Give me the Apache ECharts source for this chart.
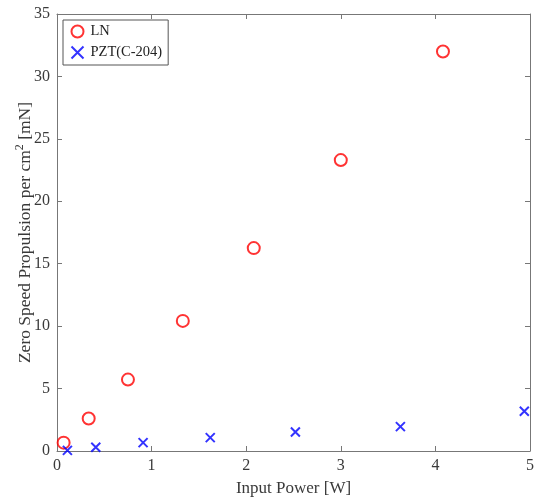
<!DOCTYPE html>
<html><head><meta charset="utf-8">
<script src="https://cdn.jsdelivr.net/npm/echarts@6/dist/echarts.min.js"></script>
<style>html,body{margin:0;padding:0;background:#fff}#c{width:535px;height:498px}</style>
</head><body><div id="c"></div>
<script>
const lnX = [0.07, 0.335, 0.75, 1.33, 2.08, 3.0, 4.08];
const lnY = [0.67, 2.6, 5.72, 10.42, 16.25, 23.3, 32.0];
const pztX = [0.11, 0.41, 0.91, 1.62, 2.52, 3.63, 4.94];
const pztY = [0.05, 0.3, 0.67, 1.07, 1.52, 1.95, 3.18];
const xTicks = [0, 1, 2, 3, 4, 5];
const yTicks = [0, 5, 10, 15, 20, 25, 30, 35];

const font = 'Liberation Serif';
const axisColor = '#777777';
const labelColor = '#3a3a3a';
const crossPath = 'path://M0,0L10,10M10,0L0,10';

const chart = echarts.init(document.getElementById('c'), null, {renderer: 'canvas'});
const baseAxis = {
  type: 'value', splitLine: {show: false},
  axisLine: {show: true, onZero: false, lineStyle: {color: axisColor, width: 1}},
  axisTick: {show: true, inside: true, length: 5, lineStyle: {color: axisColor}},
};
chart.setOption({
  animation: false,
  grid: {left: 57, right: 5, top: 14, bottom: 47, containLabel: false, outerBoundsMode: 'none'},
  legend: {
    orient: 'vertical', left: 63, top: 20, padding: [4, 6, 4, 6], itemGap: 5,
    borderColor: '#555', borderWidth: 1, itemWidth: 16, itemHeight: 12,
    textStyle: {fontFamily: font, fontSize: 14.5, color: '#222'},
    data: [{name: 'LN'}, {name: 'PZT(C-204)'}]
  },
  xAxis: [
    Object.assign({}, baseAxis, {
      min: xTicks[0], max: xTicks[xTicks.length - 1], interval: 1, position: 'bottom',
      name: 'Input Power [W]', nameLocation: 'middle', nameGap: 29, nameMoveOverlap: false,
      nameTextStyle: {fontFamily: font, fontSize: 17, color: labelColor},
      axisLabel: {fontFamily: font, fontSize: 16, color: labelColor, margin: 7}
    }),
    Object.assign({}, baseAxis, {
      min: xTicks[0], max: xTicks[xTicks.length - 1], interval: 1, position: 'top',
      axisLabel: {show: false}
    })
  ],
  yAxis: [
    Object.assign({}, baseAxis, {
      min: yTicks[0], max: yTicks[yTicks.length - 1], interval: 5, position: 'left',
      name: '{n|Zero Speed Propulsion per cm}{s|2}{n| [mN]}', nameLocation: 'middle', nameGap: 21,
      nameMoveOverlap: false,
      nameTextStyle: {
        fontFamily: font, fontSize: 17, color: labelColor,
        rich: {
          n: {fontFamily: font, fontSize: 17.5, color: labelColor},
          s: {fontFamily: font, fontSize: 12, color: labelColor, verticalAlign: 'top', padding: [0, 0, 10, 0]}
        }
      },
      axisLabel: {fontFamily: font, fontSize: 16, color: labelColor, margin: 7}
    }),
    Object.assign({}, baseAxis, {
      min: yTicks[0], max: yTicks[yTicks.length - 1], interval: 5, position: 'right',
      axisLabel: {show: false}
    })
  ],
  series: [
    {
      name: 'LN', type: 'scatter', symbol: 'emptyCircle', symbolSize: 12,
      itemStyle: {color: '#ff0000', borderColor: '#ff0000', borderWidth: 1.6},
      data: lnX.map((x, i) => [x, lnY[i]])
    },
    {
      name: 'PZT(C-204)', type: 'scatter', symbol: crossPath, symbolSize: 9,
      itemStyle: {color: 'none', borderColor: '#0000ff', borderWidth: 2},
      data: pztX.map((x, i) => [x, pztY[i]])
    }
  ]
});
</script></body></html>
